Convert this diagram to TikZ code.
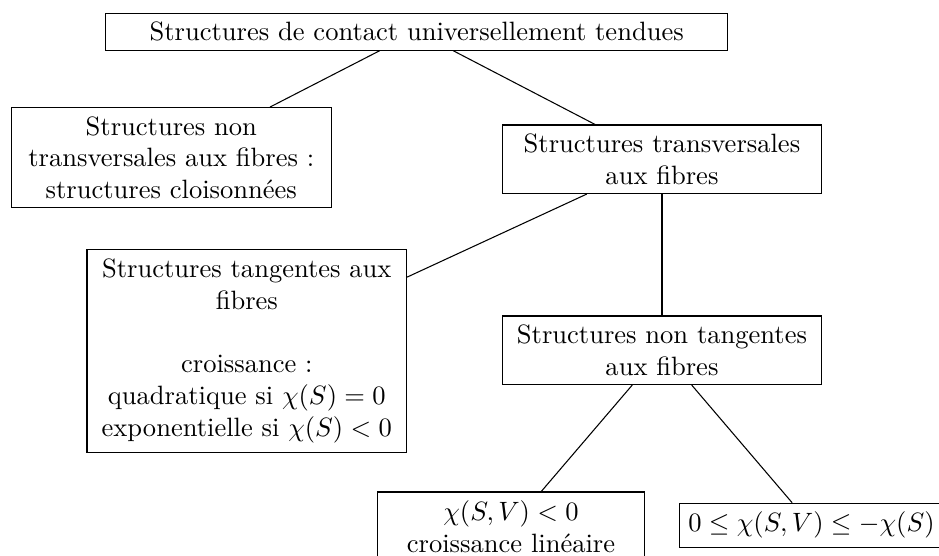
\documentclass[tikz,border=0pt]{standalone}
\usepackage{amsmath}
\usepackage{amssymb}
\usepackage{tikz}
\tikzset{basic/.style={draw,align=flush center}}
\tikzset{structure/.style={basic,text width=4cm}}

\begin{document}
\begin{tikzpicture}
  \useasboundingbox (0,0) rectangle (12.44,-7.36);
  \clip (0,0) rectangle (12.44,-7.36);

  \tikzstyle{root}=[basic,text width=8cm];
  \tikzstyle{leaf}=[basic,text width=3.3cm];
  \tikzstyle{formula}=[basic];

  \node (tendues) at (5.52, -0.42) [root]{Structures de contact universellement tendues};

  \node (non_transversales) at (2.27, -2.09) [structure]{Structures non transversales aux fibres~: structures cloisonnées};
  \node (transversales) at (8.77, -2.11) [structure]{Structures transversales aux fibres};

  \node (tangentes) at (3.27, -4.65) [structure]{Structures tangentes aux fibres\\[\baselineskip] croissance~:\\ quadratique si $\chi(S)=0$\\ exponentielle si $\chi(S)<0$};
  \node (non_tangentes) at (8.77, -4.64) [structure]{Structures non tangentes aux fibres};

  \node (lineaire) at (6.77, -6.98) [leaf]{$\chi(S,V)<0$\\ croissance linéaire};
  \node (borne) at (10.75, -6.96) [formula]{$0\leq\chi(S,V)\leq-\chi(S)$};

  \draw (tendues) -- (non_transversales);
  \draw (tendues) -- (transversales);

  \draw (transversales) -- (tangentes);
  \draw (transversales) -- (non_tangentes);

  \draw (non_tangentes) -- (lineaire);
  \draw (non_tangentes) -- (borne);

\end{tikzpicture}
\end{document}
